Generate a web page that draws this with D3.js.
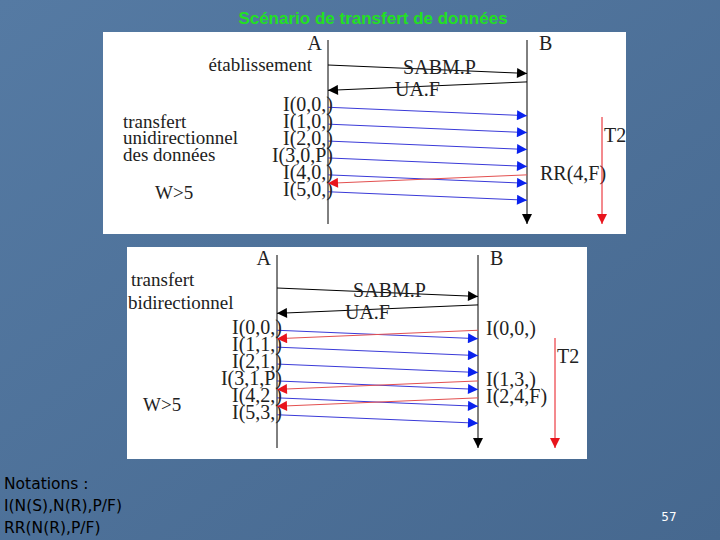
<!DOCTYPE html>
<html><head><meta charset="utf-8">
<script src="https://cdn.jsdelivr.net/npm/d3@7"></script>
<style>body{margin:0;}svg{display:block;}</style>
</head><body>
<svg id="chart" width="720" height="540"></svg>
<script>
// messages: [label, from, t0, t1, color]; times in sequence units
const setup = [["SABM.P", "A", 0, 1], ["UA.F", "B", 2, 3]];
const uniFrames = ["I(0,0,)", "I(1,0,)", "I(2,0,)", "I(3,0,P)", "I(4,0,)", "I(5,0,)"];
const uniStarts = [5, 7, 9, 11, 13, 15];
const uniReplies = [["RR(4,F)", 13]];
const biFramesA = ["I(0,0,)", "I(1,1,)", "I(2,1,)", "I(3,1,P)", "I(4,2,)", "I(5,3,)"];
const biStartsA = [5, 7, 9, 11, 13, 15];
const biFramesB = ["I(0,0,)", "I(1,3,)", "I(2,4,F)"];
const biStartsB = [5, 11, 13];

const svg = d3.select("#chart");
const defs = svg.append("defs");
const grad = defs.append("linearGradient").attr("id", "bg").attr("x1", 0).attr("y1", 0).attr("x2", 1).attr("y2", 1);
grad.append("stop").attr("offset", "0%").attr("stop-color", "#557aa3");
grad.append("stop").attr("offset", "100%").attr("stop-color", "#46688f");
svg.append("rect").attr("width", 720).attr("height", 540).attr("fill", "url(#bg)");

[["black", "#000"], ["blue", "#0a22ee"], ["red", "#e8141c"]].forEach(([id, c]) => {
    defs.append("marker").attr("id", "m-" + id).attr("viewBox", "0 0 10 10")
        .attr("refX", 10).attr("refY", 5).attr("markerWidth", 16).attr("markerHeight", 10)
        .attr("markerUnits", "userSpaceOnUse").attr("orient", "auto")
        .append("path").attr("d", "M0,0L10,5L0,10Z").attr("fill", c);
});
const lineColor = {black: "#000", blue: "#3a3ad8", red: "#e35050"};

svg.append("text").attr("x", 373).attr("y", 24).attr("text-anchor", "middle")
    .attr("font-family", "Liberation Sans, Arial").attr("font-weight", "bold")
    .attr("font-size", 17).attr("fill", "#22e022").text("Scénario de transfert de données");

function panel(p) {
    const g = svg.append("g");
    g.append("rect").attr("x", p.x).attr("y", p.y).attr("width", p.w).attr("height", p.h).attr("fill", "#fff");
    const y = d3.scaleLinear().domain([0, 1]).range([p.t0, p.t0 + 8.45]);
    const font = "Liberation Serif, Times New Roman, serif";
    const txt = (x, yy, s, anchor, size) => g.append("text").attr("x", x).attr("y", yy)
        .attr("text-anchor", anchor || "start").attr("font-family", font)
        .attr("font-size", size || 19).attr("fill", "#222").text(s);
    g.append("line").attr("x1", p.ax).attr("x2", p.ax).attr("y1", p.y + 8).attr("y2", p.bottom).attr("stroke", "#000");
    g.append("line").attr("x1", p.bx).attr("x2", p.bx).attr("y1", p.y + 8).attr("y2", p.bottom)
        .attr("stroke", "#000").attr("marker-end", "url(#m-black)");
    txt(p.ax - 6, p.y + 18, "A", "end", 20);
    txt(p.bx + 12, p.y + 18, "B", "start", 20);
    const arrow = (from, t0, t1, col) => {
        const x0 = from === "A" ? p.ax : p.bx, x1 = from === "A" ? p.bx : p.ax;
        g.append("line").attr("x1", x0).attr("y1", y(t0)).attr("x2", x1).attr("y2", y(t1))
            .attr("stroke", lineColor[col]).attr("stroke-width", 1).attr("marker-end", `url(#m-${col})`);
    };
    setup.forEach(([lab, from, t0, t1]) => {
        arrow(from, t0, t1, "black");
        txt((p.ax + p.bx) / 2 + (from === "A" ? 12 : -10), y(t0) + (from === "A" ? 9 : 14), lab, "middle", 20);
    });
    p.fromA.forEach((lab, i) => {
        arrow("A", p.startsA[i], p.startsA[i] + 1, "blue");
        txt(p.ax + 5, y(p.startsA[i]) + 4, lab, "end", 20);
    });
    p.fromB.forEach(([lab, t]) => {
        arrow("B", t, t + 1, "red");
        txt(p.bx + p.bLabDx, y(t) + 5, lab, "start", 20);
    });
    g.append("line").attr("x1", p.tx).attr("x2", p.tx).attr("y1", p.ty0).attr("y2", p.bottom)
        .attr("stroke", "#e8141c").attr("marker-end", "url(#m-red)");
    txt(p.tx + 2, p.ty0 + 25, "T2", "start", 20);
    p.labels.forEach(([s, x, yy, a]) => txt(x, yy, s, a));
    return g;
}

panel({x: 103, y: 32, w: 523, h: 202, ax: 328, bx: 527, t0: 65, bottom: 224, tx: 602, ty0: 117,
    fromA: uniFrames, startsA: uniStarts, fromB: uniReplies, bLabDx: 13,
    labels: [["établissement", 312, 71, "end"], ["transfert", 123, 128], ["unidirectionnel", 123, 144],
             ["des données", 123, 161], ["W>5", 155, 199]]});

panel({x: 127, y: 247, w: 460, h: 212, ax: 277, bx: 478, t0: 288, bottom: 448, tx: 555, ty0: 338,
    fromA: biFramesA, startsA: biStartsA, fromB: biFramesB.map((s, i) => [s, biStartsB[i]]), bLabDx: 8,
    labels: [["transfert", 131, 286], ["bidirectionnel", 128, 309], ["W>5", 143, 411]]});

const notes = ["Notations :", "I(N(S),N(R),P/F)", "RR(N(R),P/F)"];
svg.selectAll("text.note").data(notes).enter().append("text").attr("class", "note")
    .attr("x", 4).attr("y", (d, i) => 489 + i * 22).attr("font-family", "DejaVu Sans")
    .attr("font-size", 15.5).attr("fill", "#000").text(d => d);
svg.append("text").attr("x", 669).attr("y", 521).attr("text-anchor", "middle")
    .attr("font-family", "DejaVu Sans").attr("font-size", 12).attr("fill", "#fff").text("57");
</script>
</body></html>
